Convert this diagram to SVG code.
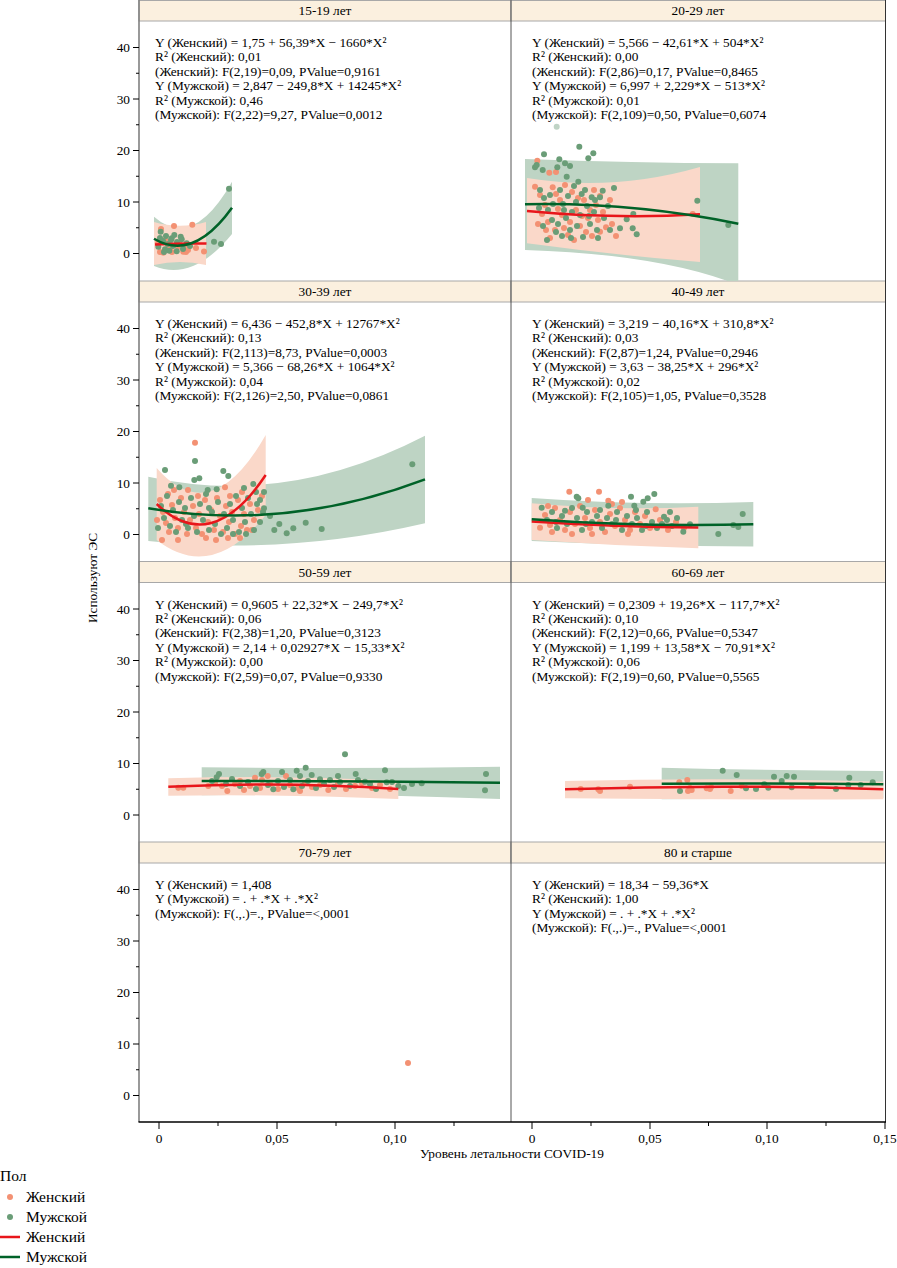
<svg xmlns="http://www.w3.org/2000/svg" width="897" height="1268" viewBox="0 0 897 1268">
<style>
text{font-family:"Liberation Serif","Times New Roman",serif;font-size:13.33px;fill:#000}
.hd{text-anchor:middle}
.yl{text-anchor:end}
.xl{text-anchor:middle}
.lg{font-size:15.5px}
.hdr{fill:#FBF0DF;stroke:#A8A8A8;stroke-width:1}
.bm{fill:#BED4C4}
.bf{fill:#FAD8C9}
.f circle{fill:#F39173}
.m circle{fill:#6A9D77}
.lf{fill:none;stroke:#E8161B;stroke-width:2.5}
.lm{fill:none;stroke:#006228;stroke-width:2.5}
.tk{stroke:#000;stroke-width:1;fill:none}
</style>
<defs>
<clipPath id="cB"><rect x="511" y="21" width="374.5" height="260"/></clipPath>
</defs>
<rect x="0" y="0" width="897" height="1268" fill="#fff"/>

<!-- frame -->
<g id="frame">
<rect class="hdr" x="139" y="0.5" width="372" height="20.5"/>
<rect class="hdr" x="511" y="0.5" width="374.5" height="20.5"/>
<rect class="hdr" x="139" y="281" width="372" height="21"/>
<rect class="hdr" x="511" y="281" width="374.5" height="21"/>
<rect class="hdr" x="139" y="561.5" width="372" height="21"/>
<rect class="hdr" x="511" y="561.5" width="374.5" height="21"/>
<rect class="hdr" x="139" y="842" width="372" height="21"/>
<rect class="hdr" x="511" y="842" width="374.5" height="21"/>
<line x1="139" y1="0" x2="139" y2="1122" stroke="#808080" stroke-width="1.6"/>
<line x1="511" y1="0" x2="511" y2="1122" stroke="#555" stroke-width="1"/>
<line x1="885.5" y1="0" x2="885.5" y2="1122" stroke="#333" stroke-width="1"/>
<line x1="138.5" y1="1122" x2="886" y2="1122" stroke="#000" stroke-width="1.3"/>
<text class="hd" x="325" y="15">15-19 лет</text>
<text class="hd" x="698" y="15">20-29 лет</text>
<text class="hd" x="325" y="296">30-39 лет</text>
<text class="hd" x="698" y="296">40-49 лет</text>
<text class="hd" x="325" y="576.5">50-59 лет</text>
<text class="hd" x="698" y="576.5">60-69 лет</text>
<text class="hd" x="325" y="857">70-79 лет</text>
<text class="hd" x="698" y="857">80 и старше</text>
</g>

<!-- y axes -->
<g id="y-axis">
<path class="tk" d="M133,253.5H139M136,227.75H139M133,202H139M136,176.25H139M133,150.5H139M136,124.75H139M133,99H139M136,73.25H139M133,47.5H139
M133,534.5H139M136,508.75H139M133,483H139M136,457.25H139M133,431.5H139M136,405.75H139M133,380H139M136,354.25H139M133,328.5H139
M133,815H139M136,789.25H139M133,763.5H139M136,737.75H139M133,712H139M136,686.25H139M133,660.5H139M136,634.75H139M133,609H139
M133,1095.5H139M136,1069.75H139M133,1044H139M136,1018.25H139M133,992.5H139M136,966.75H139M133,941H139M136,915.25H139M133,889.5H139"/>
<text class="yl" x="130" y="258">0</text><text class="yl" x="130" y="206.5">10</text><text class="yl" x="130" y="155">20</text><text class="yl" x="130" y="103.5">30</text><text class="yl" x="130" y="52">40</text>
<text class="yl" x="130" y="539">0</text><text class="yl" x="130" y="487.5">10</text><text class="yl" x="130" y="436">20</text><text class="yl" x="130" y="384.5">30</text><text class="yl" x="130" y="333">40</text>
<text class="yl" x="130" y="819.5">0</text><text class="yl" x="130" y="768">10</text><text class="yl" x="130" y="716.5">20</text><text class="yl" x="130" y="665">30</text><text class="yl" x="130" y="613.5">40</text>
<text class="yl" x="130" y="1100">0</text><text class="yl" x="130" y="1048.5">10</text><text class="yl" x="130" y="997">20</text><text class="yl" x="130" y="945.5">30</text><text class="yl" x="130" y="894">40</text>
<text transform="translate(96.5,578) rotate(-90)" class="hd">Используют ЭС</text>
</g>

<!-- x axis -->
<g id="x-axis">
<path class="tk" d="M159,1122V1129M218,1122V1126M277,1122V1129M336,1122V1126M395,1122V1129M454,1122V1126M532,1122V1129M591,1122V1126M650,1122V1129M708.5,1122V1126M767,1122V1129M826,1122V1126M885,1122V1129"/>
<text class="xl" x="159" y="1143">0</text><text class="xl" x="277" y="1143">0,05</text><text class="xl" x="395" y="1143">0,10</text>
<text class="xl" x="532" y="1143">0</text><text class="xl" x="650" y="1143">0,05</text><text class="xl" x="767" y="1143">0,10</text><text class="xl" x="885" y="1143">0,15</text>
<text class="xl" x="512" y="1157.5">Уровень летальности COVID-19</text>
</g>

<!-- 15-19 -->
<g id="panel-15-19">
<path class="bm" d="M154,216.7 Q193,250.8 232,181.7 L232,234 Q193,282 154,266 Z"/>
<path class="bf" d="M154,222 Q180,229.5 206,222 L206,265 Q180,259 154,265 Z"/>
<g class="f">
<circle cx="174" cy="226" r="3"/><circle cx="192.3" cy="224.7" r="3"/><circle cx="204" cy="251.5" r="3"/><circle cx="163.3" cy="252.7" r="3"/><circle cx="183.3" cy="251.7" r="3"/><circle cx="186" cy="252" r="3"/><circle cx="161" cy="229" r="3"/><circle cx="170" cy="248" r="3"/><circle cx="158" cy="243" r="3"/><circle cx="168" cy="245" r="3"/><circle cx="178" cy="247" r="3"/><circle cx="188" cy="250" r="3"/><circle cx="165" cy="240" r="3"/><circle cx="179" cy="243" r="3"/><circle cx="160" cy="252" r="3"/><circle cx="196" cy="248" r="3"/><circle cx="172" cy="252" r="3"/><circle cx="184" cy="246" r="3"/>
</g>
<g class="m">
<circle cx="160.7" cy="231.7" r="3"/><circle cx="166" cy="236" r="3"/><circle cx="171.7" cy="238.3" r="3"/><circle cx="174.3" cy="235" r="3"/><circle cx="180.7" cy="236.7" r="3"/><circle cx="181.7" cy="239.3" r="3"/><circle cx="158.3" cy="246.7" r="3"/><circle cx="165" cy="249.3" r="3"/><circle cx="169.3" cy="250.7" r="3"/><circle cx="176.7" cy="251.3" r="3"/><circle cx="190" cy="246" r="3"/><circle cx="214" cy="241.7" r="3"/><circle cx="221" cy="244" r="3"/><circle cx="186.7" cy="243.3" r="3"/><circle cx="229" cy="188.7" r="3"/><circle cx="163" cy="241" r="3"/><circle cx="168" cy="244" r="3"/><circle cx="173" cy="246" r="3"/><circle cx="177" cy="242" r="3"/><circle cx="183" cy="249" r="3"/><circle cx="160" cy="238" r="3"/><circle cx="171" cy="240" r="3"/><circle cx="164" cy="252" r="3"/>
</g>
<path class="lf" d="M155,244.5 Q181,243 206.5,243.5"/>
<path class="lm" d="M154,238.7 Q193,262 232,207.7"/>
<text x="155" y="47">Y (Женский) = 1,75 + 56,39*X − 1660*X²</text>
<text x="155" y="61.4">R² (Женский): 0,01</text>
<text x="155" y="75.8">(Женский): F(2,19)=0,09, PValue=0,9161</text>
<text x="155" y="90.2">Y (Мужской) = 2,847 − 249,8*X + 14245*X²</text>
<text x="155" y="104.6">R² (Мужской): 0,46</text>
<text x="155" y="119">(Мужской): F(2,22)=9,27, PValue=0,0012</text>
</g>

<!-- 20-29 -->
<g id="panel-20-29">
<g clip-path="url(#cB)">
<path class="bm" d="M525,159 Q631.7,163 738.3,163.3 L738.3,285 Q660,254 525,250 Z"/>
</g>
<path class="bf" d="M527,178 Q613.5,192 700,167 L700,262 Q613.5,255 527,243.3 Z"/>
<g class="f">
<circle cx="537.3" cy="160.7" r="3"/><circle cx="549.3" cy="172.7" r="3"/><circle cx="556" cy="172" r="3"/><circle cx="535" cy="186.7" r="3"/><circle cx="552.7" cy="187.3" r="3"/><circle cx="565" cy="185" r="3"/><circle cx="606" cy="227.3" r="3"/><circle cx="600" cy="231.7" r="3"/><circle cx="692.7" cy="214" r="3"/><circle cx="540" cy="195" r="3"/><circle cx="545" cy="205" r="3"/><circle cx="548" cy="222" r="3"/><circle cx="555" cy="230" r="3"/><circle cx="560" cy="200" r="3"/><circle cx="562" cy="215" r="3"/><circle cx="568" cy="235" r="3"/><circle cx="572" cy="192" r="3"/><circle cx="576" cy="210" r="3"/><circle cx="580" cy="226" r="3"/><circle cx="584" cy="200" r="3"/><circle cx="588" cy="218" r="3"/><circle cx="592" cy="236" r="3"/><circle cx="596" cy="205" r="3"/><circle cx="542" cy="214" r="3"/><circle cx="550" cy="238" r="3"/><circle cx="558" cy="209" r="3"/><circle cx="570" cy="222" r="3"/><circle cx="578" cy="198" r="3"/><circle cx="586" cy="232" r="3"/><circle cx="594" cy="190" r="3"/><circle cx="603" cy="212" r="3"/><circle cx="610" cy="200" r="3"/><circle cx="546" cy="230" r="3"/><circle cx="564" cy="228" r="3"/><circle cx="590" cy="210" r="3"/><circle cx="600" cy="196" r="3"/><circle cx="538" cy="224" r="3"/><circle cx="574" cy="240" r="3"/><circle cx="582" cy="216" r="3"/><circle cx="556" cy="194" r="3"/><circle cx="612" cy="224" r="3"/><circle cx="616" cy="236" r="3"/><circle cx="598" cy="220" r="3"/>
</g>
<circle cx="556.7" cy="126.7" r="3" fill="#BFD3C5"/>
<g class="m">
<circle cx="579.3" cy="146.7" r="3"/><circle cx="593.3" cy="153.3" r="3"/><circle cx="588.3" cy="158.3" r="3"/><circle cx="544" cy="154.3" r="3"/><circle cx="559.3" cy="159.3" r="3"/><circle cx="565" cy="163.3" r="3"/><circle cx="570" cy="166" r="3"/><circle cx="535" cy="167.3" r="3"/><circle cx="536.7" cy="165" r="3"/><circle cx="542.7" cy="170" r="3"/><circle cx="557.3" cy="167.3" r="3"/><circle cx="566.7" cy="176.7" r="3"/><circle cx="578.3" cy="181.7" r="3"/><circle cx="697.3" cy="200.7" r="3"/><circle cx="728.3" cy="225" r="3"/><circle cx="620" cy="228.3" r="3"/><circle cx="632.7" cy="228.3" r="3"/><circle cx="636.7" cy="234.3" r="3"/><circle cx="626.7" cy="219.3" r="3"/><circle cx="633.3" cy="214" r="3"/><circle cx="602.7" cy="190.7" r="3"/><circle cx="600" cy="197.3" r="3"/><circle cx="591.7" cy="197.3" r="3"/><circle cx="581.7" cy="194" r="3"/><circle cx="540" cy="190" r="3"/><circle cx="544" cy="198" r="3"/><circle cx="548" cy="210" r="3"/><circle cx="552" cy="220" r="3"/><circle cx="556" cy="232" r="3"/><circle cx="560" cy="190" r="3"/><circle cx="563" cy="204" r="3"/><circle cx="566" cy="218" r="3"/><circle cx="570" cy="230" r="3"/><circle cx="574" cy="186" r="3"/><circle cx="576" cy="202" r="3"/><circle cx="580" cy="215" r="3"/><circle cx="583" cy="237" r="3"/><circle cx="587" cy="206" r="3"/><circle cx="590" cy="224" r="3"/><circle cx="594" cy="212" r="3"/><circle cx="597" cy="230" r="3"/><circle cx="543" cy="226" r="3"/><circle cx="550" cy="195" r="3"/><circle cx="558" cy="224" r="3"/><circle cx="562" cy="236" r="3"/><circle cx="568" cy="196" r="3"/><circle cx="572" cy="212" r="3"/><circle cx="585" cy="190" r="3"/><circle cx="598" cy="238" r="3"/><circle cx="604" cy="218" r="3"/><circle cx="608" cy="206" r="3"/><circle cx="539" cy="208" r="3"/><circle cx="547" cy="240" r="3"/><circle cx="553" cy="204" r="3"/><circle cx="564" cy="210" r="3"/><circle cx="577" cy="226" r="3"/><circle cx="589" cy="216" r="3"/><circle cx="595" cy="200" r="3"/><circle cx="610" cy="230" r="3"/><circle cx="614" cy="188" r="3"/><circle cx="571" cy="238" r="3"/>
</g>
<path class="lf" d="M527,211 Q613.5,219.3 700,214.3"/>
<path class="lm" d="M525,204.3 Q631.7,202 738.3,223.7"/>
<text x="532" y="47">Y (Женский) = 5,566 − 42,61*X + 504*X²</text>
<text x="532" y="61.4">R² (Женский): 0,00</text>
<text x="532" y="75.8">(Женский): F(2,86)=0,17, PValue=0,8465</text>
<text x="532" y="90.2">Y (Мужской) = 6,997 + 2,229*X − 513*X²</text>
<text x="532" y="104.6">R² (Мужской): 0,01</text>
<text x="532" y="119">(Мужской): F(2,109)=0,50, PValue=0,6074</text>
</g>

<!-- 30-39 -->
<g id="panel-30-39">
<path class="bm" d="M148.3,476.7 Q286.7,507.4 425,435.7 L425,523.3 Q286.7,555.5 148.3,541 Z"/>
<path class="bf" d="M156.7,468 Q211.2,530.5 265.7,435 L265.7,515 Q211.2,582.5 156.7,540 Z"/>
<g class="f">
<circle cx="195" cy="442.7" r="3"/><circle cx="225" cy="487.3" r="3"/><circle cx="160" cy="500" r="3"/><circle cx="163" cy="512" r="3"/><circle cx="166" cy="523" r="3"/><circle cx="169" cy="532" r="3"/><circle cx="172" cy="505" r="3"/><circle cx="175" cy="518" r="3"/><circle cx="178" cy="528" r="3"/><circle cx="181" cy="498" r="3"/><circle cx="184" cy="512" r="3"/><circle cx="187" cy="534" r="3"/><circle cx="190" cy="520" r="3"/><circle cx="193" cy="506" r="3"/><circle cx="196" cy="528" r="3"/><circle cx="199" cy="514" r="3"/><circle cx="202" cy="534" r="3"/><circle cx="205" cy="500" r="3"/><circle cx="208" cy="522" r="3"/><circle cx="211" cy="510" r="3"/><circle cx="214" cy="530" r="3"/><circle cx="217" cy="498" r="3"/><circle cx="220" cy="516" r="3"/><circle cx="223" cy="532" r="3"/><circle cx="226" cy="506" r="3"/><circle cx="229" cy="522" r="3"/><circle cx="232" cy="512" r="3"/><circle cx="235" cy="534" r="3"/><circle cx="238" cy="500" r="3"/><circle cx="241" cy="526" r="3"/><circle cx="244" cy="514" r="3"/><circle cx="247" cy="530" r="3"/><circle cx="250" cy="504" r="3"/><circle cx="254" cy="520" r="3"/><circle cx="258" cy="510" r="3"/><circle cx="262" cy="496" r="3"/><circle cx="168" cy="494" r="3"/><circle cx="178" cy="540" r="3"/><circle cx="188" cy="490" r="3"/><circle cx="198" cy="496" r="3"/><circle cx="206" cy="538" r="3"/><circle cx="216" cy="540" r="3"/><circle cx="228" cy="538" r="3"/><circle cx="240" cy="538" r="3"/><circle cx="157" cy="520" r="3"/><circle cx="162" cy="540" r="3"/><circle cx="230" cy="496" r="3"/><circle cx="242" cy="492" r="3"/><circle cx="252" cy="530" r="3"/><circle cx="174" cy="490" r="3"/>
</g>
<g class="m">
<circle cx="195" cy="461" r="3"/><circle cx="165" cy="470" r="3"/><circle cx="223.3" cy="471" r="3"/><circle cx="228.3" cy="476" r="3"/><circle cx="194.3" cy="480" r="3"/><circle cx="199.3" cy="478.3" r="3"/><circle cx="171" cy="485.7" r="3"/><circle cx="179.3" cy="487.3" r="3"/><circle cx="253.3" cy="484" r="3"/><circle cx="264" cy="492" r="3"/><circle cx="260" cy="500" r="3"/><circle cx="264" cy="508.3" r="3"/><circle cx="207.7" cy="490" r="3"/><circle cx="216.7" cy="489.3" r="3"/><circle cx="270" cy="516" r="3"/><circle cx="274.3" cy="530" r="3"/><circle cx="279.3" cy="524" r="3"/><circle cx="286.7" cy="533.3" r="3"/><circle cx="293.3" cy="528.3" r="3"/><circle cx="305.7" cy="522.7" r="3"/><circle cx="321.7" cy="529" r="3"/><circle cx="412.3" cy="464.3" r="3"/>
<circle cx="158" cy="528" r="3"/><circle cx="161" cy="506" r="3"/><circle cx="164" cy="518" r="3"/><circle cx="167" cy="496" r="3"/><circle cx="170" cy="526" r="3"/><circle cx="173" cy="510" r="3"/><circle cx="176" cy="532" r="3"/><circle cx="179" cy="502" r="3"/><circle cx="182" cy="520" r="3"/><circle cx="185" cy="508" r="3"/><circle cx="188" cy="528" r="3"/><circle cx="191" cy="498" r="3"/><circle cx="194" cy="516" r="3"/><circle cx="197" cy="532" r="3"/><circle cx="200" cy="504" r="3"/><circle cx="203" cy="520" r="3"/><circle cx="206" cy="494" r="3"/><circle cx="209" cy="530" r="3"/><circle cx="212" cy="512" r="3"/><circle cx="215" cy="524" r="3"/><circle cx="218" cy="502" r="3"/><circle cx="221" cy="534" r="3"/><circle cx="224" cy="514" r="3"/><circle cx="227" cy="528" r="3"/><circle cx="230" cy="504" r="3"/><circle cx="233" cy="520" r="3"/><circle cx="236" cy="496" r="3"/><circle cx="239" cy="532" r="3"/><circle cx="242" cy="508" r="3"/><circle cx="245" cy="522" r="3"/><circle cx="248" cy="498" r="3"/><circle cx="251" cy="514" r="3"/><circle cx="254" cy="530" r="3"/><circle cx="257" cy="504" r="3"/><circle cx="260" cy="522" r="3"/><circle cx="263" cy="512" r="3"/><circle cx="246" cy="534" r="3"/><circle cx="233" cy="534" r="3"/><circle cx="209" cy="508" r="3"/><circle cx="186" cy="524" r="3"/><circle cx="244" cy="488" r="3"/><circle cx="256" cy="492" r="3"/>
</g>
<path class="lf" d="M156.7,504 Q211.2,556.5 265.7,475"/>
<path class="lm" d="M148.3,508.3 Q286.7,531.8 425,479.3"/>
<text x="155" y="328">Y (Женский) = 6,436 − 452,8*X + 12767*X²</text>
<text x="155" y="342.4">R² (Женский): 0,13</text>
<text x="155" y="356.8">(Женский): F(2,113)=8,73, PValue=0,0003</text>
<text x="155" y="371.2">Y (Мужской) = 5,366 − 68,26*X + 1064*X²</text>
<text x="155" y="385.6">R² (Мужской): 0,04</text>
<text x="155" y="400">(Мужской): F(2,126)=2,50, PValue=0,0861</text>
</g>

<!-- 40-49 -->
<g id="panel-40-49">
<path class="bm" d="M531.7,498 Q642.5,506 753.3,502 L753.3,546.5 Q642.5,546.25 531.7,541 Z"/>
<path class="bf" d="M531.7,503.3 Q615,511 698.3,506.7 L698.3,548.3 Q615,545.85 531.7,540 Z"/>
<g class="f">
<circle cx="569.3" cy="491.7" r="3"/><circle cx="599" cy="491.7" r="3"/><circle cx="608.3" cy="500.7" r="3"/><circle cx="655.7" cy="509.3" r="3"/><circle cx="540" cy="527.7" r="3"/><circle cx="545" cy="515" r="3"/><circle cx="550" cy="525" r="3"/><circle cx="555" cy="508" r="3"/><circle cx="560" cy="520" r="3"/><circle cx="565" cy="530" r="3"/><circle cx="570" cy="512" r="3"/><circle cx="575" cy="524" r="3"/><circle cx="580" cy="506" r="3"/><circle cx="585" cy="518" r="3"/><circle cx="590" cy="528" r="3"/><circle cx="595" cy="510" r="3"/><circle cx="600" cy="522" r="3"/><circle cx="605" cy="532" r="3"/><circle cx="610" cy="514" r="3"/><circle cx="615" cy="526" r="3"/><circle cx="620" cy="508" r="3"/><circle cx="625" cy="520" r="3"/><circle cx="630" cy="530" r="3"/><circle cx="635" cy="512" r="3"/><circle cx="640" cy="524" r="3"/><circle cx="645" cy="516" r="3"/><circle cx="650" cy="528" r="3"/><circle cx="660" cy="520" r="3"/><circle cx="668" cy="530" r="3"/><circle cx="676" cy="522" r="3"/><circle cx="684" cy="528" r="3"/><circle cx="552" cy="532" r="3"/><circle cx="572" cy="534" r="3"/><circle cx="592" cy="534" r="3"/><circle cx="612" cy="504" r="3"/><circle cx="628" cy="534" r="3"/><circle cx="548" cy="506" r="3"/><circle cx="588" cy="500" r="3"/><circle cx="622" cy="502" r="3"/>
</g>
<g class="m">
<circle cx="576.7" cy="496.7" r="3"/><circle cx="578.3" cy="498.3" r="3"/><circle cx="631" cy="496.7" r="3"/><circle cx="647.7" cy="498.3" r="3"/><circle cx="654.3" cy="494" r="3"/><circle cx="643.3" cy="501.7" r="3"/><circle cx="634.3" cy="505.7" r="3"/><circle cx="608.3" cy="505.7" r="3"/><circle cx="541.7" cy="507.7" r="3"/><circle cx="582.7" cy="507.7" r="3"/><circle cx="565" cy="510.7" r="3"/><circle cx="742.7" cy="514" r="3"/><circle cx="733.3" cy="525" r="3"/><circle cx="738.3" cy="527" r="3"/><circle cx="718.3" cy="534" r="3"/><circle cx="683.3" cy="531.7" r="3"/><circle cx="690" cy="524.3" r="3"/><circle cx="664" cy="516.7" r="3"/>
<circle cx="547" cy="520" r="3"/><circle cx="552" cy="512" r="3"/><circle cx="557" cy="528" r="3"/><circle cx="562" cy="516" r="3"/><circle cx="567" cy="524" r="3"/><circle cx="572" cy="508" r="3"/><circle cx="577" cy="518" r="3"/><circle cx="582" cy="530" r="3"/><circle cx="587" cy="512" r="3"/><circle cx="592" cy="522" r="3"/><circle cx="597" cy="516" r="3"/><circle cx="602" cy="528" r="3"/><circle cx="607" cy="518" r="3"/><circle cx="612" cy="524" r="3"/><circle cx="617" cy="512" r="3"/><circle cx="622" cy="530" r="3"/><circle cx="627" cy="516" r="3"/><circle cx="632" cy="524" r="3"/><circle cx="637" cy="518" r="3"/><circle cx="642" cy="530" r="3"/><circle cx="647" cy="512" r="3"/><circle cx="652" cy="522" r="3"/><circle cx="657" cy="528" r="3"/><circle cx="662" cy="524" r="3"/><circle cx="667" cy="520" r="3"/><circle cx="672" cy="526" r="3"/><circle cx="677" cy="518" r="3"/><circle cx="556" cy="522" r="3"/><circle cx="586" cy="524" r="3"/><circle cx="616" cy="520" r="3"/><circle cx="646" cy="526" r="3"/><circle cx="600" cy="510" r="3"/><circle cx="636" cy="510" r="3"/><circle cx="670" cy="512" r="3"/>
</g>
<path class="lf" d="M531.7,521.5 Q615,527 698.3,527.5"/>
<path class="lm" d="M531.7,519.3 Q642.5,527.2 753.3,524.3"/>
<text x="532" y="328">Y (Женский) = 3,219 − 40,16*X + 310,8*X²</text>
<text x="532" y="342.4">R² (Женский): 0,03</text>
<text x="532" y="356.8">(Женский): F(2,87)=1,24, PValue=0,2946</text>
<text x="532" y="371.2">Y (Мужской) = 3,63 − 38,25*X + 296*X²</text>
<text x="532" y="385.6">R² (Мужской): 0,02</text>
<text x="532" y="400">(Мужской): F(2,105)=1,05, PValue=0,3528</text>
</g>

<!-- 50-59 -->
<g id="panel-50-59">
<path class="bm" d="M201.7,767.3 Q350.8,769 500,766.7 L500,799 Q350.8,793 201.7,795.3 Z"/>
<path class="bf" d="M168.3,778.3 Q283.3,775 398.3,780.7 L398.3,799 Q283.3,794 168.3,795.7 Z"/>
<g class="f">
<circle cx="178.3" cy="787.7" r="3"/><circle cx="183.3" cy="787.7" r="3"/><circle cx="208.3" cy="786" r="3"/><circle cx="227.3" cy="791" r="3"/><circle cx="244" cy="790" r="3"/><circle cx="267.7" cy="776" r="3"/><circle cx="255" cy="777.7" r="3"/><circle cx="286" cy="776" r="3"/><circle cx="328.3" cy="790" r="3"/><circle cx="215" cy="783" r="3"/><circle cx="222" cy="786" r="3"/><circle cx="235" cy="784" r="3"/><circle cx="250" cy="786" r="3"/><circle cx="260" cy="788" r="3"/><circle cx="270" cy="784" r="3"/><circle cx="278" cy="789" r="3"/><circle cx="290" cy="785" r="3"/><circle cx="298" cy="788" r="3"/><circle cx="305" cy="783" r="3"/><circle cx="312" cy="787" r="3"/><circle cx="320" cy="785" r="3"/><circle cx="338" cy="784" r="3"/><circle cx="346" cy="789" r="3"/><circle cx="355" cy="786" r="3"/><circle cx="362" cy="783" r="3"/><circle cx="372" cy="788" r="3"/><circle cx="380" cy="785" r="3"/><circle cx="390" cy="789" r="3"/><circle cx="262" cy="780" r="3"/><circle cx="300" cy="791" r="3"/><circle cx="240" cy="781" r="3"/>
</g>
<g class="m">
<circle cx="345" cy="754.3" r="3"/><circle cx="305.7" cy="767.7" r="3"/><circle cx="296.7" cy="770.7" r="3"/><circle cx="263.3" cy="772" r="3"/><circle cx="261.7" cy="774" r="3"/><circle cx="219" cy="774" r="3"/><circle cx="216.7" cy="777.3" r="3"/><circle cx="385" cy="770.3" r="3"/><circle cx="355.7" cy="774" r="3"/><circle cx="486" cy="774" r="3"/><circle cx="485" cy="790.3" r="3"/><circle cx="421.7" cy="783.3" r="3"/><circle cx="398.3" cy="786" r="3"/><circle cx="386.7" cy="782.3" r="3"/><circle cx="365" cy="781.7" r="3"/><circle cx="330" cy="780" r="3"/><circle cx="320" cy="779.3" r="3"/><circle cx="311.7" cy="775" r="3"/><circle cx="273.3" cy="789.3" r="3"/><circle cx="293.3" cy="789.3" r="3"/><circle cx="212" cy="781" r="3"/><circle cx="226" cy="784" r="3"/><circle cx="232" cy="779" r="3"/><circle cx="240" cy="786" r="3"/><circle cx="248" cy="782" r="3"/><circle cx="256" cy="789" r="3"/><circle cx="268" cy="785" r="3"/><circle cx="278" cy="781" r="3"/><circle cx="284" cy="787" r="3"/><circle cx="290" cy="780" r="3"/><circle cx="302" cy="786" r="3"/><circle cx="308" cy="781" r="3"/><circle cx="316" cy="788" r="3"/><circle cx="324" cy="784" r="3"/><circle cx="334" cy="787" r="3"/><circle cx="340" cy="782" r="3"/><circle cx="350" cy="786" r="3"/><circle cx="358" cy="780" r="3"/><circle cx="370" cy="784" r="3"/><circle cx="376" cy="789" r="3"/><circle cx="392" cy="782" r="3"/><circle cx="404" cy="788" r="3"/><circle cx="412" cy="784" r="3"/><circle cx="282" cy="772" r="3"/><circle cx="300" cy="776" r="3"/><circle cx="338" cy="776" r="3"/>
</g>
<path class="lf" d="M168.3,786.7 Q283.3,781.2 398.3,789"/>
<path class="lm" d="M201.7,781 Q350.8,780.5 500,782.7"/>
<text x="155" y="608.5">Y (Женский) = 0,9605 + 22,32*X − 249,7*X²</text>
<text x="155" y="622.9">R² (Женский): 0,06</text>
<text x="155" y="637.3">(Женский): F(2,38)=1,20, PValue=0,3123</text>
<text x="155" y="651.7">Y (Мужской) = 2,14 + 0,02927*X − 15,33*X²</text>
<text x="155" y="666.1">R² (Мужской): 0,00</text>
<text x="155" y="680.5">(Мужской): F(2,59)=0,07, PValue=0,9330</text>
</g>

<!-- 60-69 -->
<g id="panel-60-69">
<path class="bm" d="M661.7,767.7 Q772.5,770.5 883.3,771 L883.3,798 Q772.5,799 661.7,799.3 Z"/>
<path class="bf" d="M565,781 Q724,777 883.3,781.7 L883.3,799.3 Q724,800 565,798.3 Z"/>
<g class="f">
<circle cx="580.7" cy="789" r="3"/><circle cx="598.3" cy="789.3" r="3"/><circle cx="600" cy="791" r="3"/><circle cx="630" cy="786.7" r="3"/><circle cx="679.3" cy="782.3" r="3"/><circle cx="687.3" cy="780" r="3"/><circle cx="691.7" cy="790" r="3"/><circle cx="706.7" cy="788.3" r="3"/><circle cx="710" cy="789" r="3"/><circle cx="730.7" cy="791" r="3"/><circle cx="741.7" cy="786" r="3"/><circle cx="813.3" cy="786" r="3"/><circle cx="690" cy="788" r="3"/><circle cx="688" cy="791" r="3"/><circle cx="711" cy="787" r="3"/>
</g>
<g class="m">
<circle cx="680" cy="791" r="3"/><circle cx="722.7" cy="770.7" r="3"/><circle cx="736.7" cy="775" r="3"/><circle cx="746" cy="788.3" r="3"/><circle cx="756" cy="789" r="3"/><circle cx="764.3" cy="784.3" r="3"/><circle cx="768.3" cy="787.7" r="3"/><circle cx="774" cy="776.7" r="3"/><circle cx="781.7" cy="781" r="3"/><circle cx="786.7" cy="776" r="3"/><circle cx="794" cy="776.7" r="3"/><circle cx="791.7" cy="787.3" r="3"/><circle cx="811.7" cy="786" r="3"/><circle cx="836" cy="789" r="3"/><circle cx="849.3" cy="777.7" r="3"/><circle cx="848.3" cy="785" r="3"/><circle cx="860.7" cy="785" r="3"/><circle cx="872.7" cy="782.3" r="3"/>
</g>
<path class="lf" d="M565,789.3 Q724,784 883.3,789.3"/>
<path class="lm" d="M661.7,783.7 Q772.5,783 883.3,784.3"/>
<text x="532" y="608.5">Y (Женский) = 0,2309 + 19,26*X − 117,7*X²</text>
<text x="532" y="622.9">R² (Женский): 0,10</text>
<text x="532" y="637.3">(Женский): F(2,12)=0,66, PValue=0,5347</text>
<text x="532" y="651.7">Y (Мужской) = 1,199 + 13,58*X − 70,91*X²</text>
<text x="532" y="666.1">R² (Мужской): 0,06</text>
<text x="532" y="680.5">(Мужской): F(2,19)=0,60, PValue=0,5565</text>
</g>

<!-- 70-79 -->
<g id="panel-70-79">
<g class="f"><circle cx="408" cy="1063" r="3"/></g>
<text x="155" y="889">Y (Женский) = 1,408</text>
<text x="155" y="903.4">Y (Мужской) = . + .*X + .*X²</text>
<text x="155" y="917.8">(Мужской): F(.,.)=., PValue=&lt;,0001</text>
</g>

<!-- 80+ -->
<g id="panel-80">
<text x="532" y="889">Y (Женский) = 18,34 − 59,36*X</text>
<text x="532" y="903.4">R² (Женский): 1,00</text>
<text x="532" y="917.8">Y (Мужской) = . + .*X + .*X²</text>
<text x="532" y="932.2">(Мужской): F(.,.)=., PValue=&lt;,0001</text>
</g>

<!-- legend -->
<g id="legend">
<text class="lg" x="0" y="1181">Пол</text>
<circle cx="10" cy="1197" r="3" fill="#F39173"/>
<text class="lg" x="26" y="1202">Женский</text>
<circle cx="10" cy="1217" r="3" fill="#6A9D77"/>
<text class="lg" x="26" y="1222">Мужской</text>
<line class="lf" x1="0" y1="1237" x2="20" y2="1237"/>
<text class="lg" x="26" y="1242">Женский</text>
<line class="lm" x1="0" y1="1257" x2="20" y2="1257"/>
<text class="lg" x="26" y="1262">Мужской</text>
</g>
</svg>
